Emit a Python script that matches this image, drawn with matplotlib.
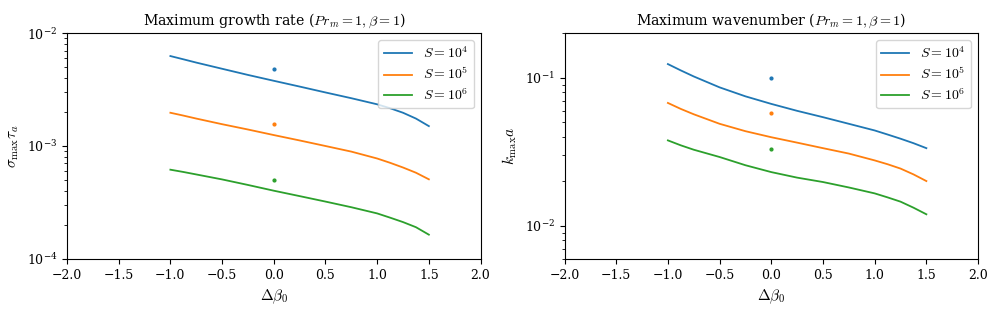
import matplotlib
matplotlib.use("Agg")
import matplotlib.pyplot as plt

plt.rcParams['font.family'] = ['DejaVu Serif']
plt.rcParams['mathtext.fontset'] = 'cm'

delta_beta0 = [-1.0, -0.875, -0.75, -0.5, -0.25, 0.0, 0.25, 0.5, 0.75, 1.0, 1.125, 1.25, 1.375, 1.5]
S_labels = [r'$S=10^4$', r'$S=10^5$', r'$S=10^6$']
colors = ['#1f77b4', '#ff7f0e', '#2ca02c']

# Maximum growth rate sigma_max * tau_a
growth_S1e4 = [6.26e-3, 5.86e-3, 5.48e-3, 4.83e-3, 4.26e-3, 3.78e-3, 3.36e-3, 2.98e-3, 2.65e-3, 2.34e-3, 2.16e-3, 1.97e-3, 1.75e-3, 1.50e-3]
growth_S1e5 = [1.97e-3, 1.86e-3, 1.75e-3, 1.56e-3, 1.40e-3, 1.25e-3, 1.12e-3, 1.00e-3, 8.92e-4, 7.75e-4, 7.10e-4, 6.45e-4, 5.80e-4, 5.07e-4]
growth_S1e6 = [6.17e-4, 5.89e-4, 5.60e-4, 5.06e-4, 4.52e-4, 4.02e-4, 3.60e-4, 3.22e-4, 2.87e-4, 2.53e-4, 2.32e-4, 2.12e-4, 1.91e-4, 1.64e-4]
growth_points = [4.83e-3, 1.57e-3, 5.0e-4]

# Maximum wavenumber k_max * a
wave_S1e4 = [0.1236, 0.112, 0.1020, 0.0861, 0.0749, 0.0666, 0.0598, 0.0542, 0.0489, 0.0441, 0.0414, 0.0388, 0.0362, 0.0335]
wave_S1e5 = [0.0676, 0.0616, 0.0567, 0.0489, 0.0436, 0.0397, 0.0365, 0.0335, 0.0308, 0.0277, 0.0261, 0.0244, 0.0223, 0.0201]
wave_S1e6 = [0.0378, 0.0350, 0.0327, 0.0292, 0.0257, 0.0231, 0.0212, 0.0198, 0.0182, 0.0166, 0.0156, 0.0146, 0.0133, 0.0120]
wave_points = [0.100, 0.058, 0.033]
point_x = 0.0

fig, (ax1, ax2) = plt.subplots(1, 2, figsize=(9.97, 3.15), dpi=100)
fig.subplots_adjust(left=0.0672, right=0.981, top=0.895, bottom=0.178, wspace=0.203)

for ax, series, pts in [(ax1, [growth_S1e4, growth_S1e5, growth_S1e6], growth_points),
                        (ax2, [wave_S1e4, wave_S1e5, wave_S1e6], wave_points)]:
    for s, lab, c, p in zip(series, S_labels, colors, pts):
        ax.plot(delta_beta0, s, color=c, label=lab, lw=1.3)
        ax.plot([point_x], [p], '.', color=c, ms=4)
    ax.set_yscale('log')
    ax.set_xlim(-2, 2)
    ax.set_xlabel(r'$\Delta\beta_0$', fontsize=11)
    ax.legend(loc='upper right', fontsize=10, labelspacing=0.35)
    ax.tick_params(labelsize=9)

ax1.set_ylim(1e-4, 1e-2)
ax2.set_ylim(0.006, 0.2)
ax1.set_ylabel(r'$\sigma_{\max}\tau_a$', fontsize=11)
ax2.set_ylabel(r'$k_{\max}a$', fontsize=11)
ax1.set_title(r'Maximum growth rate ($Pr_m=1,\beta=1$)', fontsize=10.2)
ax2.set_title(r'Maximum wavenumber ($Pr_m=1,\beta=1$)', fontsize=10.2)

fig.savefig('out.png', dpi=100)
